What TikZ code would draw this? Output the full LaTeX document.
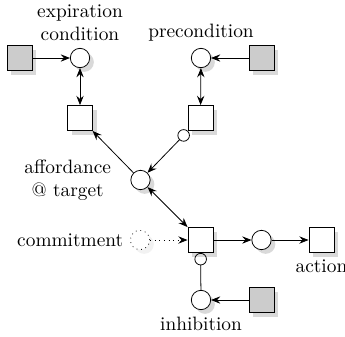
\documentclass[tikz,border=0pt]{standalone}
\usetikzlibrary{arrows.meta,shadows}
\begin{document}
\begin{tikzpicture}[x=0.5168pt,y=-0.5168pt,
  >={Stealth[length=4.8pt,width=3.8pt,inset=1.7pt]},
  shad/.style={drop shadow={fill=black!15,opacity=1}},
  placebase/.style={circle,draw,fill=white,minimum size=10pt,inner sep=0pt},
  place/.style={placebase,shad},
  trans/.style={rectangle,draw,fill=white,minimum size=13pt,inner sep=0pt,shad},
  src/.style={trans,fill=black!20},
  otip/.style={{Circle[open,length=6.4pt,width=6.4pt]}-},
  otiparrow/.style={{Circle[open,length=6.4pt,width=6.4pt]}->}
]
\useasboundingbox (0,0) rectangle (345,336);
\node[src] (g1) at (19.5,58) {};
\node[place,label={[name=lexp,align=center]above:expiration\\condition}] (exp) at (80,58) {};
\node[trans] (t1) at (80,118) {};
\node[place,label={[name=lpre]above:precondition}] (pre) at (201,58) {};
\node[src] (g2) at (261.5,58) {};
\node[trans] (t2) at (200.5,118) {};
\node[place,label={[name=laff,align=center,label distance=6.5pt]left:affordance\\@ target}] (aff) at (140.5,180) {};
\node[placebase,dotted,drop shadow={fill=black!5,opacity=1},label={[name=lcom]left:commitment}] (cd) at (140,240) {};
\node[trans] (t3) at (200.5,240) {};
\node[place] (p3) at (261.5,240) {};
\node[trans,label={[name=lact]below:action}] (act) at (321.5,240) {};
\node[place,label={[name=linh]below:inhibition}] (inh) at (201,300) {};
\node[src] (g3) at (261.5,300) {};

\draw[->] (g1) -- (exp);
\draw[<->] (exp) -- (t1);
\draw[->] (g2) -- (pre);
\draw[<->] (pre) -- (t2);
\draw[otiparrow] (t2) -- (aff);
\draw[->] (aff) -- (t1);
\draw[<->] (aff) -- (t3);
\draw[->,dotted] (cd) -- (t3);
\draw[->] (t3) -- (p3);
\draw[->] (p3) -- (act);
\draw[otip] (t3) -- (inh);
\draw[->] (g3) -- (inh);
\end{tikzpicture}
\end{document}
